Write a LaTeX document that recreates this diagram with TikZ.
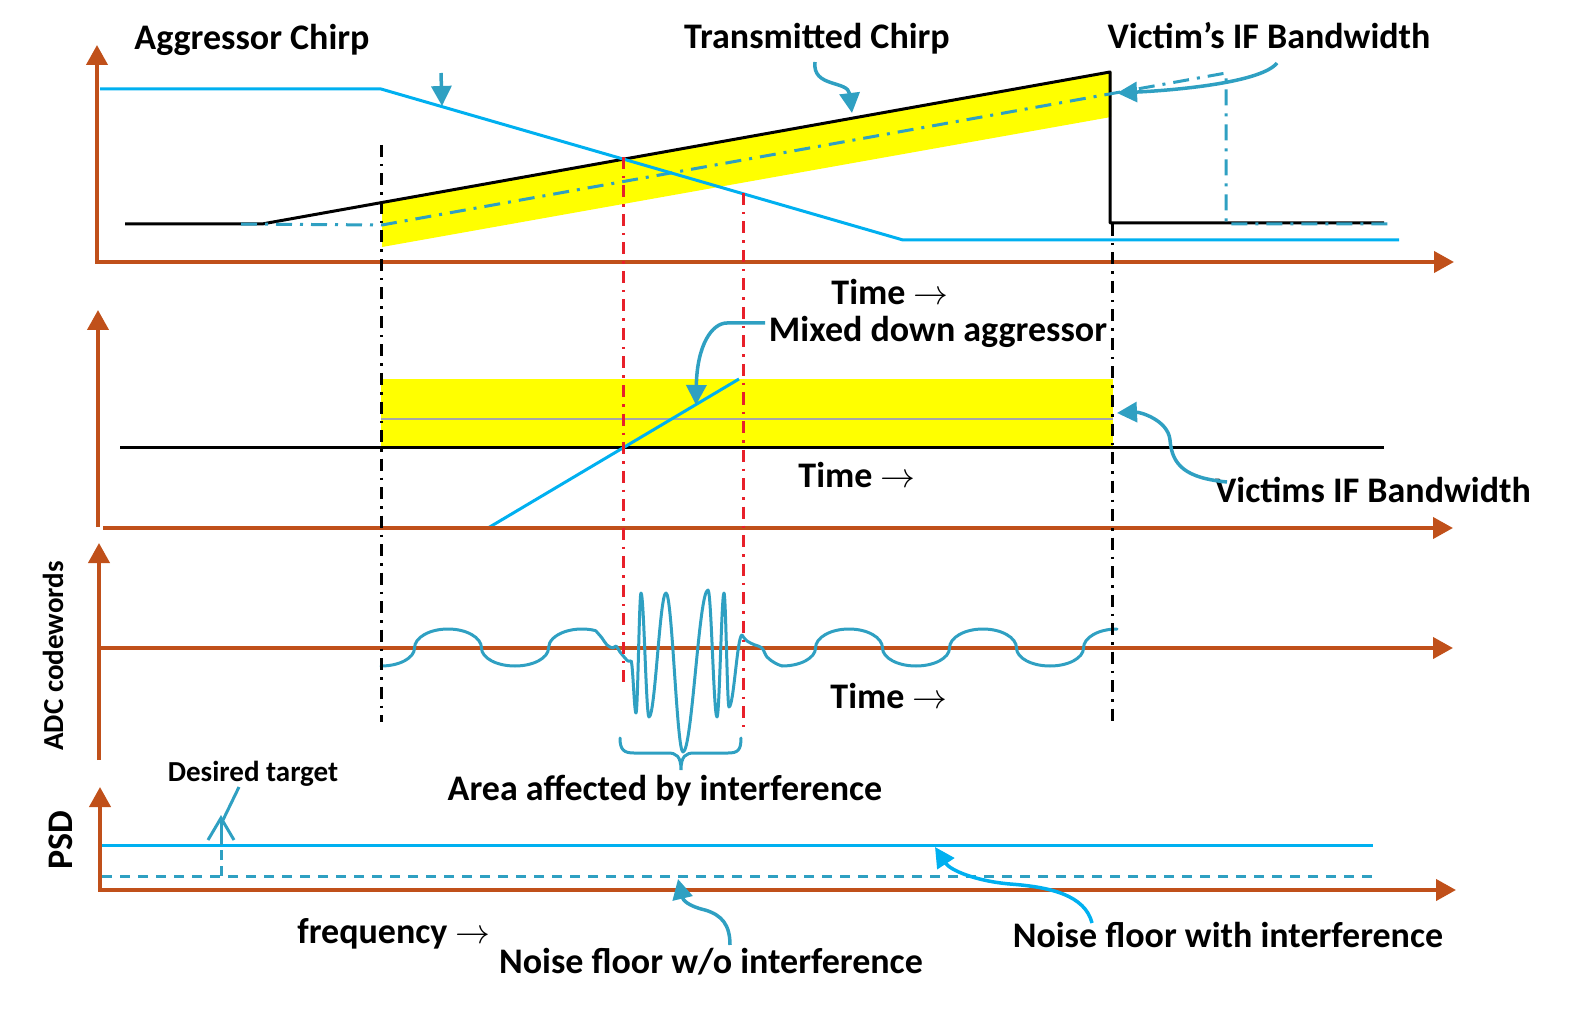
\documentclass[tikz,border=0pt]{standalone}
\usepackage{fontspec}
\setmainfont{Carlito}
\usetikzlibrary{arrows.meta}
\definecolor{axisc}{HTML}{C0501A}
\definecolor{aggc}{HTML}{00B0F0}
\definecolor{tealc}{HTML}{2FA0C2}
\definecolor{redc}{HTML}{E8202A}
\definecolor{grayc}{HTML}{A6A6A6}
\definecolor{yelc}{HTML}{FFFF00}
\newcommand{\rarr}{\scalebox{1.4}{$\rightarrow$}}
\begin{document}
\begin{tikzpicture}[x=1pt,y=-1pt,
  axis/.style={draw=axisc,line width=4pt,-{Triangle[length=20pt,width=21pt]}},
  lbl/.style={font=\fontsize{36}{40}\selectfont\bfseries,inner sep=0pt,anchor=base},
  smalllbl/.style={font=\fontsize{29}{32}\selectfont\bfseries,inner sep=0pt,anchor=base},
  aggline/.style={draw=aggc,line width=3pt},
  chirpline/.style={draw=black,line width=3pt,line join=round},
  tealdd/.style={draw=tealc,line width=3pt,dash pattern=on 16pt off 8pt on 3pt off 8pt},
  blackdd/.style={draw=black,line width=3pt,dash pattern=on 12pt off 7pt on 2.5pt off 7pt},
  reddd/.style={draw=redc,line width=3pt,dash pattern=on 12pt off 7pt on 2.5pt off 7pt},
  wave/.style={draw=tealc,line width=3pt,line cap=round,line join=round},
  callout/.style={draw=tealc,line width=3.5pt,-{Triangle[length=20pt,width=20pt]}},
]
\useasboundingbox (0,0) rectangle (1575,1016);

% ---------- panel 1 ----------
\fill[yelc] (382,202.5) -- (1111,72) -- (1111,117) -- (382,247) -- cycle;
\draw[chirpline] (125,224) -- (262,224) -- (1110,72) -- (1110,223) -- (1384,223);
\draw[tealdd] (241,224) -- (382,225) -- (1226,73) -- (1226,224) -- (1393,224);
\draw[aggline] (100,89) -- (381,89) -- (903,240) -- (1399,240);
\draw[axis] (97,262) -- (97,45);
\draw[axis] (95,262) -- (1454,262);

% ---------- panel 2 ----------
\fill[yelc] (381,379) rectangle (1113,447);
\draw[draw=grayc,line width=2.5pt] (381,419) -- (1113,419);
\draw[chirpline] (120,447) -- (1384,447);
\draw[aggline] (488,528) -- (739,379);
\draw[axis] (98,527) -- (98,310);
\draw[axis] (103,528) -- (1453,528);

% ---------- panel 3 ----------
\draw[axis] (99,760) -- (99,543);
\draw[axis] (97,648) -- (1453,648);
\draw[wave] (381,666) arc[start angle=270,end angle=360,x radius=33.5pt,y radius=18pt]
  arc[start angle=180,end angle=0,x radius=33.5pt,y radius=19pt]
  arc[start angle=180,end angle=360,x radius=33.5pt,y radius=18pt]
  arc[start angle=180,end angle=66,x radius=33.5pt,y radius=19pt];
\draw[wave] plot[smooth,tension=0.6] coordinates {(595.6,630.6) (602,638) (607,645) (613,648) (616,646) (620,652) (625,658) (628,661) (631,661)};
\draw[wave] (631,661)
  .. controls +(1.8,0) and +(-1.8,0) .. (636,713)
  .. controls +(1.8,0) and +(-1.8,0) .. (641,593)
  .. controls +(2.9,0) and +(-2.9,0) .. (649,717)
  .. controls +(6.2,0) and +(-6.2,0) .. (666,593)
  .. controls +(6.2,0) and +(-6.2,0) .. (683,752)
  .. controls +(9.1,0) and +(-9.1,0) .. (708,590)
  .. controls +(3.3,0) and +(-3.3,0) .. (717,717)
  .. controls +(2.5,0) and +(-2.5,0) .. (724,593)
  .. controls +(1.8,0) and +(-1.8,0) .. (729,707)
  .. controls +(4.7,0) and +(-4.7,0) .. (742,635);
\draw[wave] plot[smooth,tension=0.6] coordinates {(742,635) (747,641) (755,645) (762,648) (767,657) (775,663) (782,666)};
\draw[wave] (782,666) arc[start angle=270,end angle=360,x radius=33.5pt,y radius=18pt]
  arc[start angle=180,end angle=0,x radius=33.5pt,y radius=19pt]
  arc[start angle=180,end angle=360,x radius=33.5pt,y radius=18pt]
  arc[start angle=180,end angle=0,x radius=33.5pt,y radius=19pt]
  arc[start angle=180,end angle=360,x radius=33.5pt,y radius=18pt]
  arc[start angle=180,end angle=90,x radius=33.5pt,y radius=19pt];
% brace
\draw[draw=tealc,line width=3pt,line cap=round] (620,738) .. controls (620,750) and (624,753) .. (634,753) -- (668,753)
  .. controls (676,753) and (681,756) .. (681,770)
  .. controls (681,756) and (686,753) .. (694,753) -- (728,753)
  .. controls (738,753) and (741,750) .. (741,738);

% ---------- panel 4 ----------
\draw[aggline] (102,845) -- (1373,845);
\draw[draw=tealc,line width=3pt,dash pattern=on 10pt off 8pt] (102,876) -- (1373,876);
\draw[axis] (100,890) -- (100,787);
\draw[axis] (98,890) -- (1456,890);
\draw[draw=tealc,line width=3pt,dash pattern=on 10pt off 6pt] (221,876) -- (221,845);
\draw[draw=tealc,line width=3pt] (221,845) -- (221,819);
\draw[draw=tealc,line width=3pt,line join=miter] (208,840) -- (221,818) -- (234,840);

% ---------- vertical markers ----------
\draw[blackdd] (381,145) -- (381,722);
\draw[blackdd] (1112,224) -- (1112,722);
\draw[reddd] (623,157) -- (623,684);
\draw[reddd] (743,193) -- (743,727);

% ---------- labels ----------
\node[lbl] (tAgg) at (252,50) {Aggressor Chirp};
\node[lbl] (tTx) at (817,49) {Transmitted Chirp};
\node[lbl] (tVic) at (1269,49) {Victim’s IF Bandwidth};
\node[lbl] (tTime1) at (890,305) {Time \rarr};
\node[lbl] (tMix) at (938,342) {Mixed down aggressor};
\node[lbl] (tTime2) at (857,487) {Time \rarr};
\node[lbl] (tVic2) at (1373,502) {Victims IF Bandwidth};
\node[lbl] (tTime3) at (889,708) {Time \rarr};
\node[lbl] (tArea) at (665,800) {Area affected by interference};
\node[smalllbl,rotate=90] (tADC) at (63,656) {ADC codewords};
\node[smalllbl] (tDes) at (253,781) {Desired target};
\node[lbl,rotate=90] (tPSD) at (72,840) {PSD};
\node[lbl] (tFreq) at (394,943) {frequency \rarr};
\node[lbl] (tNwo) at (711,973) {Noise floor w/o interference};
\node[lbl] (tNw) at (1228,947) {Noise floor with interference};

% ---------- callouts ----------
\coordinate (cA1) at (441,73); \coordinate (cA2) at (442,106);
\draw[callout] (cA1) -- (cA2);
\coordinate (cT1) at (815,62); \coordinate (cT2) at (852,113);
\draw[callout] (cT1) .. controls (812,88) and (848,80) .. (cT2);
\coordinate (cV1) at (1277,63); \coordinate (cV2) at (1117,93);
\draw[callout] (cV1) .. controls (1262,82) and (1180,90) .. (cV2);
\coordinate (cM1) at (765,323); \coordinate (cM2) at (696,405);
\draw[callout] (cM1) -- (727,323) .. controls (712,323) and (697,345) .. (cM2);
\coordinate (cI1) at (1227,482); \coordinate (cI2) at (1117,413);
\draw[callout] (cI1) .. controls (1185,478) and (1172,465) .. (1170,440) .. controls (1168,420) and (1140,412) .. (cI2);
\coordinate (cD1) at (239,787); \coordinate (cD2) at (223,820);
\draw[draw=tealc,line width=3pt] (cD1) -- (cD2);
\coordinate (cN1) at (730,945); \coordinate (cN2) at (678,879);
\draw[callout] (cN1) .. controls (730,925) and (722,915) .. (705,910) .. controls (688,906) and (683,900) .. (cN2);
\coordinate (cW1) at (1092,923); \coordinate (cW2) at (935,847);
\draw[callout,draw=aggc] (cW1) .. controls (1085,895) and (1050,887) .. (1010,884) .. controls (975,881) and (950,870) .. (cW2);
\end{tikzpicture}
\end{document}
